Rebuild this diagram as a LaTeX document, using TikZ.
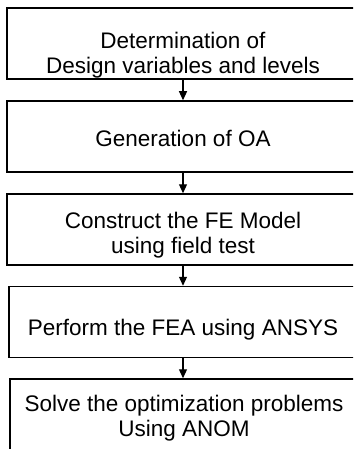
\documentclass[tikz,border=0pt]{standalone}
\usepackage{fontspec}
\setmainfont{Liberation Sans}
\usetikzlibrary{arrows.meta}

\tikzset{
  stagebox/.style={draw=black, line width=1.5pt, minimum width=352pt, minimum height=71pt, inner sep=0pt},
  stagetext/.style={align=center, font=\fontsize{22.5}{25}\selectfont, inner sep=0pt},
  flow/.style={line width=1.2pt, -{Triangle[width=8pt,length=9pt]}}
}

\begin{document}
\begin{tikzpicture}[x=1pt,y=-1pt]
            \path[use as bounding box] (0,0) rectangle (353,449);
            \begin{scope}
                \clip (0,0) rectangle (353,449); % boxes run off the right and bottom edge
                \node[stagebox] (s1) at (183,43.5) {};
                \node[stagebox] (s2) at (183,136.5) {};
                \node[stagebox] (s3) at (183,229.5) {};
                \node[stagebox] (s4) at (185,322) {};
                \node[stagebox] (s5) at (186,414.5) {};

                \node[stagetext] (t1) at ([yshift=-11.5pt]s1.center) {Determination of\\Design variables and levels};
                \node[stagetext] (t2) at ([yshift=-1.5pt]s2.center) {Generation of OA};
                \node[stagetext] (t3) at ([yshift=-6pt]s3.center) {Construct the FE Model\\using field test};
                \node[stagetext] (t4) at ([xshift=-2pt,yshift=-8pt]s4.center) {Perform the FEA using ANSYS};
                \node[stagetext] (t5) at ([xshift=-2pt,yshift=-4pt]s5.center) {Solve the optimization problems\\Using ANOM};

                \foreach \a/\b in {s1/s2, s2/s3, s3/s4}{
                    \draw[flow] (\a.south) -- (\b.north -| \a.south);
                }
                \draw[flow] (t4.south |- s4.south) -- (t4.south |- s5.north);
            \end{scope}
\end{tikzpicture}
\end{document}
